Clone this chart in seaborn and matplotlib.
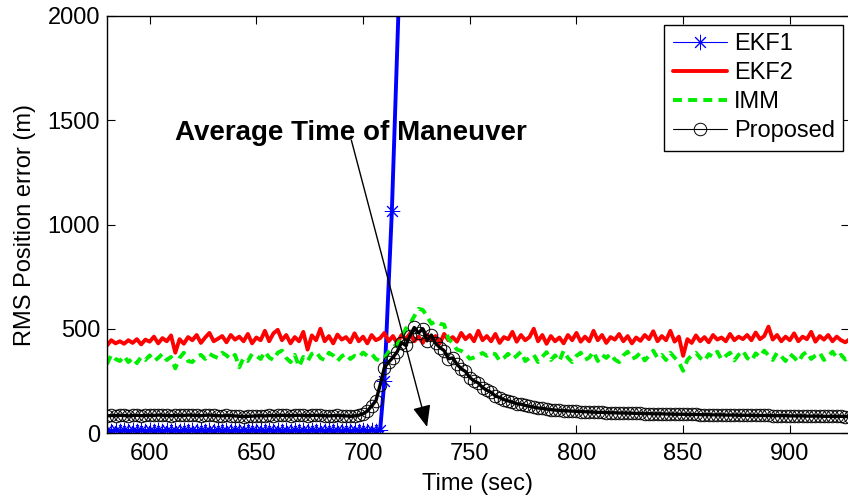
import matplotlib
matplotlib.use("Agg")
import matplotlib.pyplot as plt
import seaborn as sns
import numpy as np

sns.set_style("ticks")
plt.rcParams['font.family'] = ['Liberation Sans', 'DejaVu Sans']
plt.rcParams.update({'font.size': 17, 'text.color': 'black', 'axes.labelcolor': 'black',
                     'xtick.color': 'black', 'ytick.color': 'black',
                     'axes.edgecolor': 'black'})

# Time axis (sec), 2 s sampling
t = np.arange(580, 930, 2)
# EKF1 diverges right after the maneuver, so its record stops once off the scale
t_ekf1 = list(range(580, 710, 2)) + [710, 713.5, 717, 720]

ekf1 = [12, 10, 13, 11, 12, 10, 12, 11, 13, 10,
        12, 11, 12, 10, 13, 11, 12, 10, 12, 11,
        13, 10, 12, 11, 12, 10, 13, 11, 12, 10,
        12, 11, 13, 10, 12, 11, 12, 10, 13, 11,
        12, 10, 12, 11, 13, 10, 12, 11, 12, 10,
        13, 11, 12, 10, 12, 11, 13, 10, 12, 11,
        12, 10, 13, 11, 14, 250, 1065, 2150, 3000]

ekf2 = [420, 445, 430, 440, 428, 445, 432, 450, 425, 448,
        438, 462, 430, 455, 440, 468, 385, 450, 428, 460,
        445, 470, 432, 458, 480, 440, 452, 465, 435, 470,
        448, 462, 440, 475, 430, 458, 445, 490, 440, 478,
        495, 445, 470, 430, 460, 440, 485, 400, 468, 445,
        500, 440, 465, 430, 472, 448, 460, 435, 478, 440,
        462, 430, 470, 445, 455, 480, 440, 465, 430, 470,
        450, 478, 440, 462, 432, 470, 448, 465, 430, 475,
        445, 460, 438, 480, 450, 470, 440, 490, 445, 465,
        440, 475, 432, 460, 450, 485, 438, 470, 445, 460,
        500, 440, 470, 428, 465, 440, 458, 430, 470, 445,
        480, 438, 462, 440, 490, 445, 470, 432, 460, 448,
        475, 440, 465, 430, 458, 442, 470, 450, 488, 440,
        465, 445, 490, 438, 462, 370, 450, 432, 468, 440,
        460, 435, 470, 448, 458, 440, 475, 445, 462, 450,
        470, 445, 482, 450, 465, 510, 448, 470, 440, 462,
        445, 478, 440, 462, 450, 485, 438, 465, 448, 470,
        440, 462, 445, 435, 450]

imm = [330, 375, 355, 345, 370, 340, 360, 335, 365, 350,
       372, 345, 360, 380, 350, 365, 310, 360, 385, 345,
       340, 365, 375, 355, 380, 368, 360, 385, 372, 355,
       375, 315, 360, 345, 380, 370, 355, 390, 362, 350,
       385, 395, 360, 340, 375, 318, 365, 345, 380, 390,
       360, 350, 385, 372, 345, 368, 380, 355, 370, 362,
       386, 370, 380, 355, 346, 360, 390, 410, 427, 450,
       500, 524, 560, 596, 590, 560, 524, 535, 524, 520,
       452, 430, 400, 394, 380, 356, 362, 372, 384, 370,
       384, 378, 346, 360, 380, 355, 370, 390, 345, 360,
       375, 340, 365, 388, 350, 372, 345, 395, 360, 340,
       370, 385, 350, 362, 390, 345, 375, 360, 380, 352,
       340, 372, 390, 355, 365, 385, 348, 370, 395, 360,
       375, 350, 385, 362, 340, 298, 350, 372, 385, 360,
       345, 378, 365, 390, 352, 370, 385, 348, 375, 395,
       360, 345, 382, 365, 395, 372, 350, 385, 368, 345,
       380, 362, 340, 375, 390, 355, 372, 385, 350, 368,
       390, 360, 375, 352, 370]

proposed = [82, 84, 83, 85, 84, 82, 84, 85, 83, 84,
            85, 84, 86, 85, 84, 83, 84, 85, 84, 86,
            85, 84, 83, 85, 86, 84, 83, 82, 84, 83,
            82, 80, 79, 80, 81, 82, 83, 82, 84, 83,
            84, 85, 84, 83, 84, 85, 84, 83, 84, 85,
            84, 83, 82, 83, 84, 83, 82, 80, 82, 85,
            92, 105, 130, 154, 230, 314, 340, 362, 390, 434,
            420, 466, 506, 480, 500, 442, 470, 430, 410, 395,
            356, 360, 330, 308, 295, 266, 250, 240, 218, 205,
            195, 178, 170, 160, 154, 148, 140, 138, 132, 128,
            124, 120, 118, 115, 112, 110, 108, 107, 106, 105,
            104, 103, 102, 101, 100, 99, 99, 98, 97, 97,
            96, 96, 95, 95, 94, 94, 93, 93, 92, 92,
            92, 91, 91, 90, 90, 90, 89, 89, 89, 88,
            88, 88, 87, 87, 87, 86, 86, 86, 85, 85,
            85, 85, 84, 84, 84, 84, 83, 83, 83, 83,
            82, 82, 82, 82, 81, 81, 81, 81, 80, 80,
            80, 80, 80, 79, 79]

fig = plt.figure(figsize=(8.48, 4.99), dpi=100)
ax = fig.add_axes([107 / 848, 66 / 499, 741.5 / 848, 417 / 499])

# EKF1: thick line plus thin line with asterisks
sns.lineplot(x=t_ekf1, y=ekf1, color='blue', lw=2.8, ax=ax, estimator=None)
sns.lineplot(x=t_ekf1, y=ekf1, color='blue', lw=0.8, marker=(8, 2, 0), markersize=11,
             markeredgecolor='blue', markeredgewidth=0.7, ax=ax, estimator=None, label='EKF1')
# EKF2
sns.lineplot(x=t, y=ekf2, color='red', lw=2.8, ax=ax, estimator=None, label='EKF2')
# IMM
sns.lineplot(x=t, y=imm, color='#00ee00', lw=2.8, ls=(0, (2.3, 1.6)), ax=ax,
             estimator=None, label='IMM')
# Proposed: thick line plus thin line with circles
sns.lineplot(x=t, y=proposed, color='black', lw=2.4, ax=ax, estimator=None)
sns.lineplot(x=t, y=proposed, color='black', lw=0.8, marker='o', markersize=9,
             markerfacecolor='none', markeredgecolor='black', markeredgewidth=0.7,
             ax=ax, estimator=None, label='Proposed')

ax.set_xlim(580, 927.5)
ax.set_ylim(0, 2000)
ax.set_xticks([600, 650, 700, 750, 800, 850, 900])
ax.set_yticks([0, 500, 1000, 1500, 2000])
ax.tick_params(direction='in', top=True, right=True, length=6, width=0.8, labelsize=17)
ax.tick_params(axis='x', pad=7)
ax.tick_params(axis='y', pad=5)
for s in ax.spines.values():
    s.set_linewidth(1.0)
ax.set_xlabel("Time (sec)", fontsize=17, labelpad=6)
ax.set_ylabel("RMS Position error (m)", fontsize=17, labelpad=8)

# Annotation
ax.text(612, 1405, "Average Time of Maneuver", fontsize=20, fontweight='bold', va='baseline')
ax.annotate("", xy=(730, 29), xytext=(694.5, 1405),
            arrowprops=dict(arrowstyle='-|>,head_length=0.6,head_width=0.25',
                            mutation_scale=22, lw=1.0, color='black',
                            shrinkA=0, shrinkB=0))

leg = ax.legend(loc='upper right', bbox_to_anchor=(0.993, 0.979), borderaxespad=0,
                fancybox=False, edgecolor='black', framealpha=1, fontsize=17,
                handlelength=2.3, handletextpad=0.3, labelspacing=0.3, borderpad=0.35)
leg.get_frame().set_linewidth(1.0)

fig.savefig("out.png", dpi=100)
